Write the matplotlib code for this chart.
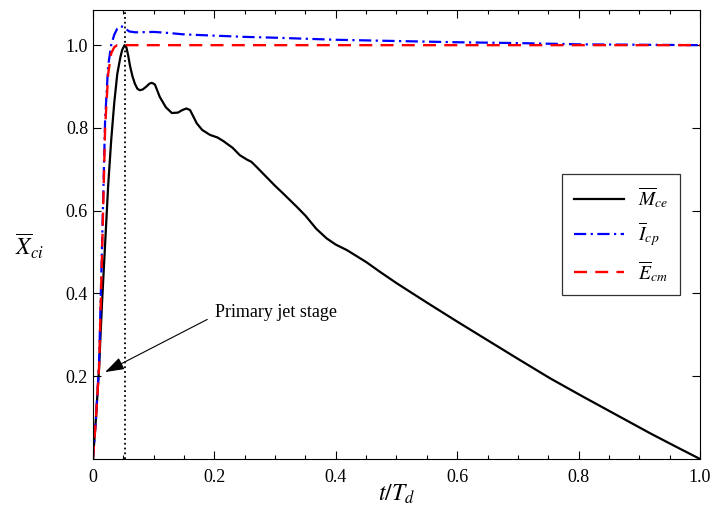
import matplotlib
matplotlib.use("Agg")
import matplotlib.pyplot as plt
from matplotlib.ticker import MultipleLocator

plt.rcParams["font.family"] = ["Liberation Serif", "DejaVu Serif"]
plt.rcParams["mathtext.fontset"] = "stix"

# black curve: M_ce
t_m = [0, 0.005, 0.01, 0.015, 0.02, 0.025, 0.03, 0.035, 0.04, 0.045, 0.048, 0.052,
       0.055, 0.058, 0.061, 0.065, 0.069, 0.073, 0.077, 0.082, 0.088, 0.093, 0.097, 0.102,
       0.11, 0.12, 0.13, 0.14, 0.147, 0.154, 0.16, 0.171, 0.18, 0.193, 0.205, 0.215,
       0.23, 0.242, 0.253, 0.261, 0.27, 0.28, 0.3, 0.313, 0.336, 0.35, 0.368, 0.385,
       0.4, 0.418, 0.45, 0.473, 0.5, 0.55, 0.6, 0.65, 0.7, 0.753, 0.808, 0.863,
       0.918, 0.96, 1.0]
m_ce = [0, 0.1, 0.22, 0.38, 0.52, 0.66, 0.77, 0.86, 0.93, 0.97, 0.988, 1.0,
        0.995, 0.975, 0.95, 0.925, 0.907, 0.895, 0.891, 0.893, 0.9, 0.907, 0.909, 0.905,
        0.875, 0.85, 0.836, 0.837, 0.843, 0.847, 0.843, 0.811, 0.795, 0.783, 0.777, 0.768,
        0.752, 0.734, 0.724, 0.718, 0.705, 0.69, 0.66, 0.642, 0.609, 0.588, 0.556, 0.533,
        0.518, 0.505, 0.476, 0.452, 0.425, 0.378, 0.332, 0.287, 0.242, 0.195, 0.15, 0.106,
        0.062, 0.03, 0.0]

# blue curve: I_cp
t_i = [0, 0.005, 0.01, 0.015, 0.02, 0.025, 0.03, 0.035, 0.04, 0.045, 0.05, 0.055,
       0.06, 0.07, 0.1, 0.12, 0.15, 0.2, 0.25, 0.3, 0.4, 0.5, 0.6, 0.7, 0.8, 0.9, 1.0]
i_cp = [0, 0.1, 0.23, 0.52, 0.82, 0.95, 1.0, 1.025, 1.04, 1.046, 1.044, 1.038,
        1.033, 1.031, 1.032, 1.03, 1.026, 1.023, 1.02, 1.018, 1.013, 1.01, 1.007,
        1.005, 1.002, 1.001, 1.0]

# red curve: E_cm
t_e = [0, 0.005, 0.01, 0.015, 0.02, 0.025, 0.03, 0.035, 0.04, 0.1, 0.5, 1.0]
e_cm = [0, 0.1, 0.22, 0.5, 0.8, 0.93, 0.98, 0.995, 1.0, 1.0, 1.0, 1.0]

t_peak = 0.052

fig = plt.figure(figsize=(7.13, 5.28), dpi=100)
ax = fig.add_axes([0.1304, 0.1307, 0.8514, 0.8504])

ax.plot(t_m, m_ce, color="black", lw=1.6, label=r"$\overline{M}_{ce}$")
ax.plot(t_i, i_cp, color="blue", lw=1.6, dashes=(5.5, 2, 1, 2), label=r"$\overline{I}_{cp}$")
ax.plot(t_e, e_cm, color="red", lw=1.7, dashes=(5.5, 3.5), label=r"$\overline{E}_{cm}$")
ax.axvline(t_peak, color="black", ls=":", lw=1.3)

ax.annotate("Primary jet stage", xy=(0.02, 0.21), xytext=(0.201, 0.353),
            fontsize=13, ha="left", va="center",
            arrowprops=dict(arrowstyle="-|>,head_length=0.9,head_width=0.3",
                            color="black", lw=0.8, relpos=(0, 0.35), shrinkA=4, shrinkB=0))

ax.set_xlim(0, 1)
ax.set_ylim(0, 1.085)
ax.set_xticks([0, 0.2, 0.4, 0.6, 0.8, 1.0])
ax.set_xticklabels(["0", "0.2", "0.4", "0.6", "0.8", "1.0"])
ax.xaxis.set_minor_locator(MultipleLocator(0.05))
ax.set_yticks([0.2, 0.4, 0.6, 0.8, 1.0])
ax.set_yticklabels(["0.2", "0.4", "0.6", "0.8", "1.0"])
ax.tick_params(which="both", direction="in", top=True, right=True, labelsize=13)
ax.tick_params(which="major", length=6, width=0.8)
ax.tick_params(which="minor", length=3, width=0.8)
ax.tick_params(axis="x", pad=7)

ax.set_xlabel(r"$t/T_d$", fontsize=17, labelpad=-2)
ax.set_ylabel(r"$\overline{X}_{ci}$", fontsize=17, rotation=0)
ax.yaxis.set_label_coords(-0.105, 0.44)

leg = ax.legend(loc="upper left", bbox_to_anchor=(0.773, 0.635), fontsize=14,
                fancybox=False, framealpha=1, edgecolor="#333333", borderaxespad=0,
                handlelength=2.6, labelspacing=0.55, borderpad=0.6, handletextpad=0.7)
leg.get_frame().set_linewidth(0.9)

fig.savefig("out.png", dpi=100)
